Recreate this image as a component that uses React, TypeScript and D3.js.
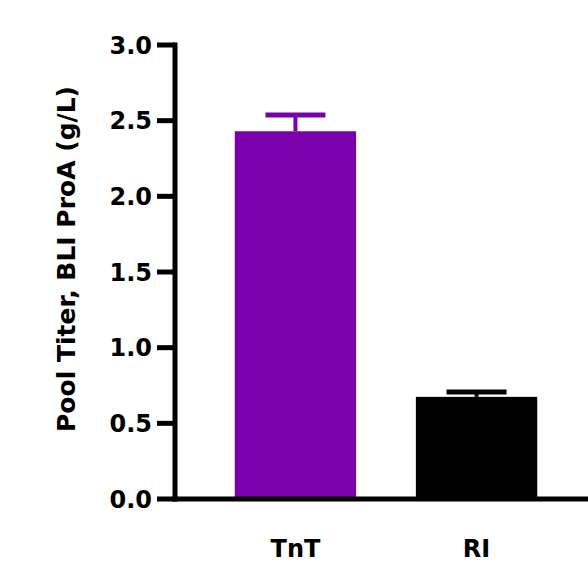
import React from "react";
import * as d3 from "d3";

const categories = ["TnT", "RI"];
const means = [2.43, 0.675];
const errors = [0.12, 0.045];
const barColors = ["#7a00ab", "#000000"];
const yTicks = [0, 0.5, 1.0, 1.5, 2.0, 2.5, 3.0];
const yTitle = "Pool Titer, BLI ProA (g/L)";

export default function App() {
  const W = 588, H = 567;
  const axisX = 175, baseY = 499, topY = 45;
  const y = d3.scaleLinear().domain([0, 3]).range([baseY, topY]);
  const x = d3.scaleBand().domain(categories).range([175, 597]).paddingInner(0.33).paddingOuter(0.33);
  const font = "'DejaVu Sans', Verdana, sans-serif";
  return (
    <svg width={W} height={H} style={{ position: "absolute", left: 0, top: 0 }}>
      <rect width={W} height={H} fill="#fff" />
      {categories.map((c, i) => {
        const x0 = x(c)!;
        const bw = x.bandwidth();
        const cx = x0 + bw / 2;
        const top = y(means[i]);
        const eTop = y(means[i] + errors[i]);
        return (
          <g key={c}>
            <rect x={x0} y={top} width={bw} height={baseY - top} fill={barColors[i]} />
            <line x1={cx} x2={cx} y1={top} y2={eTop} stroke={barColors[i]} strokeWidth={4} />
            <line x1={cx - 30} x2={cx + 30} y1={eTop + 2} y2={eTop + 2} stroke={barColors[i]} strokeWidth={5} />
            <text x={cx} y={557} textAnchor="middle" fontFamily={font} fontWeight="bold" fontSize={24} fill="#000">{c}</text>
          </g>
        );
      })}
      <line x1={axisX} x2={axisX} y1={topY - 2.5} y2={baseY + 2.5} stroke="#000" strokeWidth={5} />
      <line x1={axisX - 2.5} x2={W} y1={baseY} y2={baseY} stroke="#000" strokeWidth={5} />
      {yTicks.map((t) => (
        <g key={t}>
          <line x1={157} x2={axisX} y1={y(t)} y2={y(t)} stroke="#000" strokeWidth={5} />
          <text x={152} y={y(t) + 8.5} textAnchor="end" fontFamily={font} fontWeight="bold" fontSize={24} fill="#000">{d3.format(".1f")(t)}</text>
        </g>
      ))}
      <text transform={`translate(75,${259}) rotate(-90)`} textAnchor="middle" fontFamily={font} fontWeight="bold" fontSize={25} fill="#000">{yTitle}</text>
    </svg>
  );
}
